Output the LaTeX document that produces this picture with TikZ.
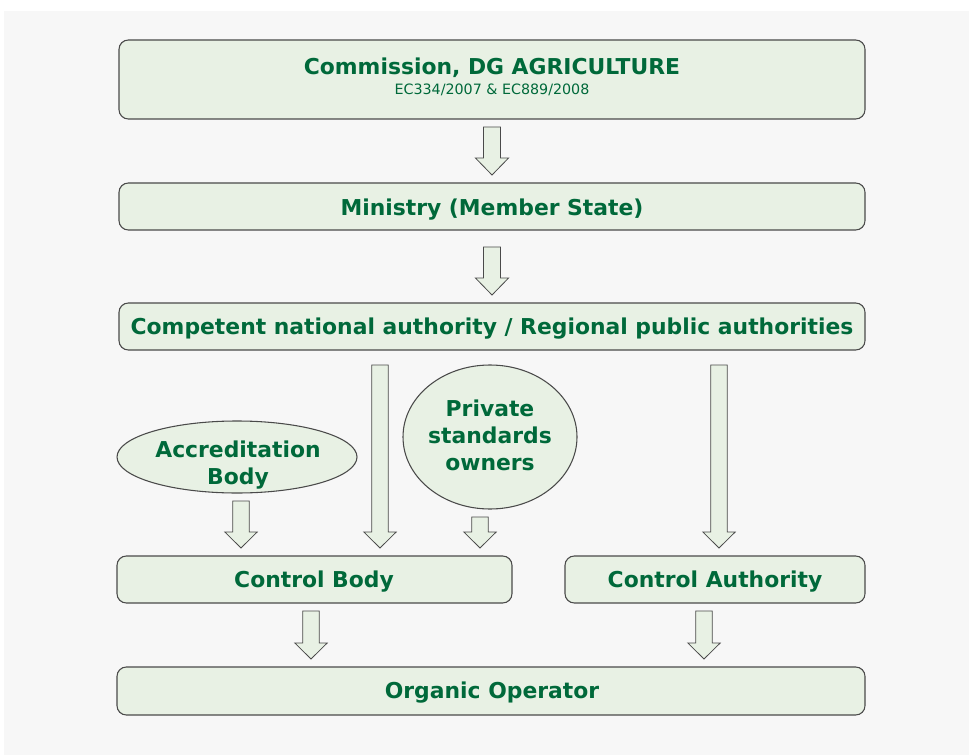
\documentclass[tikz,border=0pt]{standalone}
\usepackage{fontspec}
\setmainfont{DejaVu Sans}
\definecolor{bgc}{HTML}{F7F7F7}
\definecolor{boxfill}{HTML}{E8F1E4}
\definecolor{boxline}{HTML}{4A4A4A}
\definecolor{txt}{HTML}{00693A}
\tikzset{
  px/.style={x=0.75pt,y=-0.75pt},
  box/.style={draw=boxline,fill=boxfill,line width=0.8pt,rounded corners=7pt},
  oval/.style={draw=boxline,fill=boxfill,line width=0.8pt},
  lbl/.style={text=txt,font=\fontsize{16.4}{20.25}\selectfont\bfseries,align=center,inner sep=0pt},
  sublbl/.style={text=txt,font=\fontsize{10.7}{12}\selectfont,inner sep=0pt},
  barrowstyle/.style={draw=boxline,fill=boxfill,line width=0.6pt,line join=miter}
}
\usetikzlibrary{calc}
\newcommand{\barrow}[6]{% name, x, ytop, yhead, ytip, shafthalf
  \coordinate (#1-top) at (#2,#3);
  \coordinate (#1-tip) at (#2,#5);
  \draw[barrowstyle] ($(#1-top)+(-#6,0)$) -- ($(#1-top)+(#6,0)$) -- (#2+#6,#4) -- (#2+#6*1.95,#4) -- (#1-tip) -- (#2-#6*1.95,#4) -- (#2-#6,#4) -- cycle;
}
\begin{document}
\begin{tikzpicture}[px]
\useasboundingbox (0,0) rectangle (969,755);
\fill[white] (0,0) rectangle (969,755);
\fill[bgc] (4,11) rectangle (969,755);

% boxes
\draw[box] (119,40) rectangle (865,119);
\node[lbl] (comm) at (492,67.5) {Commission, DG AGRICULTURE};
\node[sublbl] (ec) at (492,90) {EC334/2007 \& EC889/2008};

\draw[box] (119,183) rectangle (865,230);
\node[lbl] (min) at (492,209.5) {Ministry (Member State)};

\draw[box] (119,303) rectangle (865,350);
\node[lbl] (cna) at (492,328.5) {Competent national authority / Regional public authorities};

\draw[box] (117,556) rectangle (512,603);
\node[lbl] (cb) at (314,581.5) {Control Body};

\draw[box] (565,556) rectangle (865,603);
\node[lbl] (ca) at (715,581.5) {Control Authority};

\draw[box] (117,667) rectangle (865,715);
\node[lbl] (oo) at (492,692.5) {Organic Operator};

% ellipses
\draw[oval] (237,457) ellipse [x radius=120,y radius=36];
\node[lbl] (acc) at (238,465) {Accreditation\\Body};
\draw[oval] (490,437) ellipse [x radius=87,y radius=72];
\node[lbl] (pso) at (490,435) {Private\\standards\\owners};

% block arrows
\barrow{a1}{492}{127}{158}{175}{8.5}
\barrow{a2}{492}{247}{278}{295}{8.5}
\barrow{a3}{380}{365}{532}{548}{8.3}
\barrow{a4}{719}{365}{532}{548}{8.3}
\barrow{a5}{241}{501}{532}{548}{8.3}
\barrow{a6}{480}{517}{532}{548}{8.3}
\barrow{a7}{311}{611}{643}{659}{8.3}
\barrow{a8}{704}{611}{643}{659}{8.3}
\end{tikzpicture}
\end{document}
